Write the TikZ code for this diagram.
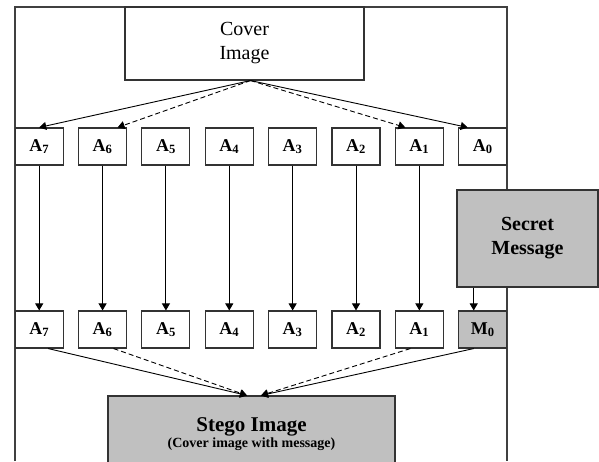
\documentclass[tikz,border=0pt]{standalone}
\usepackage{fontspec}
\setmainfont{Liberation Serif}
\usetikzlibrary{arrows.meta}
\usetikzlibrary{positioning}

\definecolor{boxgray}{HTML}{C0C0C0}
\tikzset{
  frame/.style={draw=black!75, line width=1.4pt},
  bitbox/.style={draw=black!80, line width=1.1pt, fill=white, minimum width=48pt, minimum height=37pt,
    inner sep=0pt, font=\fontsize{18}{20}\selectfont\bfseries},
  bigbox/.style={draw=black!80, line width=1.1pt, align=center, inner sep=0pt},
  conn/.style={line width=0.9pt, -{Triangle[length=7pt,width=8pt]}},
  dashconn/.style={conn, dash pattern=on 5pt off 3pt}
}

\begin{document}
\begin{tikzpicture}[x=1pt,y=-1pt]
            \useasboundingbox (0,0) rectangle (599,461);
            \draw[frame] (15,461) -- (15,7) -- (507,7) -- (507,461);

            \node[bigbox, fill=white, minimum width=239pt, minimum height=73pt,
                font=\fontsize{20}{24}\selectfont] (cover) at (244.5,43.5) {Cover\\Image};

            \foreach \k [evaluate=\k as \xc using {39.2+63.36*(7-\k)}] in {0,...,7}
                \node[bitbox] (t\k) at (\xc,146.5) {A\textsubscript{\k}};
            \foreach \k [evaluate=\k as \xc using {39.2+63.36*(7-\k)}] in {1,...,7}
                \node[bitbox] (b\k) at (\xc,329.5) {A\textsubscript{\k}};
            \node[bitbox, fill=boxgray] (b0) at (482.7,329.5) {M\textsubscript{0}};

            \node[bigbox, fill=boxgray, minimum width=141pt, minimum height=97pt,
                font=\fontsize{20}{24}\selectfont\bfseries] (secret) at (527.5,238.5) {Secret\\Message};
            \node[bigbox, fill=boxgray, minimum width=287pt, minimum height=76pt] (stego) at (251.5,434)
                {{\fontsize{21}{24}\selectfont\bfseries Stego Image}\\[1pt]
                 {\fontsize{14}{16}\selectfont\bfseries (Cover image with message)}};

            \coordinate (src) at ([xshift=6pt]cover.south);
            \draw[conn] (src) -- (t7.north);
            \draw[dashconn] (src) -- ([xshift=15pt]t6.north);
            \draw[dashconn] (src) -- ([xshift=-14pt]t1.north);
            \draw[conn] (src) -- ([xshift=-15pt]t0.north);

            \foreach \k in {1,...,7}
                \draw[conn] (t\k.south) -- (b\k.north);
            \coordinate (msgin) at ([xshift=-9pt]b0.north);
            \draw[conn] (secret.south -| msgin) -- (msgin);

            \coordinate (lin) at ([xshift=-4.5pt]stego.north);
            \coordinate (rin) at ([xshift=9.5pt]stego.north);
            \draw[conn] ([xshift=9pt]b7.south) -- (lin);
            \draw[dashconn] ([xshift=11pt]b6.south) -- (lin);
            \draw[dashconn] ([xshift=-9pt]b1.south) -- (rin);
            \draw[conn] ([xshift=-9pt]b0.south) -- (rin);
        \end{tikzpicture}
\end{document}
